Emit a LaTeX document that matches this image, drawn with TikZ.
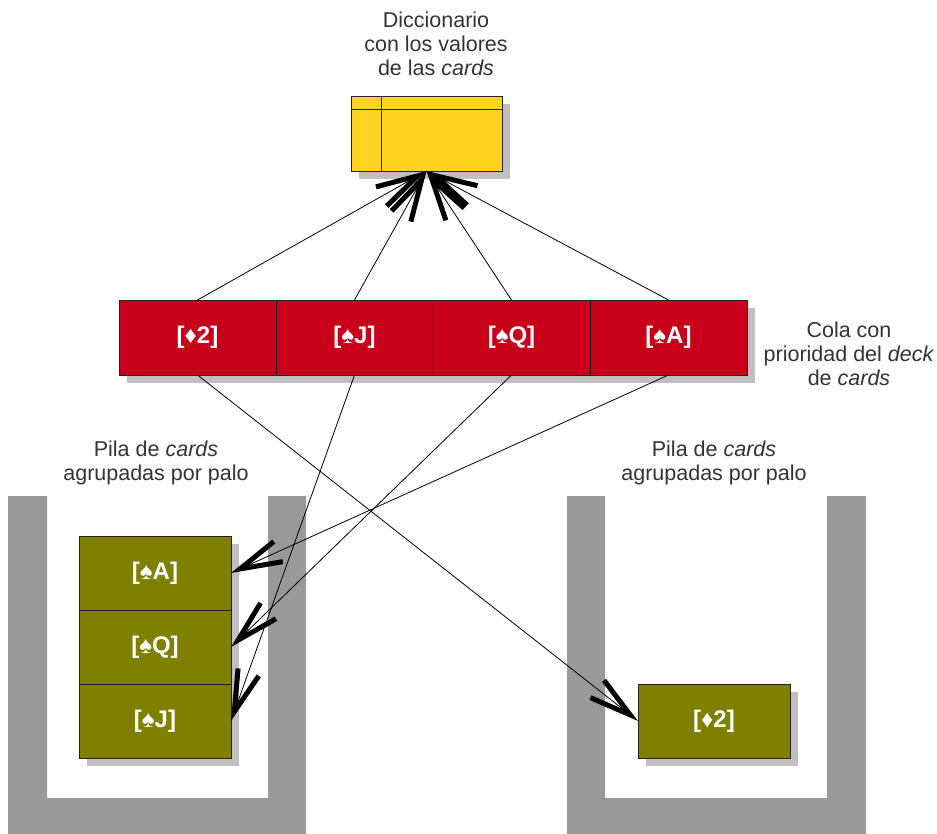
\documentclass[tikz,border=0pt]{standalone}
\usepackage{fontspec}
\setmainfont{Liberation Sans}
\usetikzlibrary{arrows.meta}
\definecolor{cardred}{HTML}{C9001A}
\definecolor{dictyellow}{HTML}{FFD320}
\definecolor{cardolive}{HTML}{808000}
\definecolor{containergray}{HTML}{999999}
\definecolor{shadowgray}{HTML}{C0C0C0}
\definecolor{textgray}{HTML}{333333}
\definecolor{edgegray}{HTML}{222222}
\begin{document}
\begin{tikzpicture}[x=1pt,y=-1pt,
  card/.style={draw=edgegray, line width=0.8pt, minimum width=157pt, minimum height=75pt, inner sep=0pt, outer sep=0pt, text=white, font=\fontsize{24}{28}\selectfont\bfseries},
  redcard/.style={card, fill=cardred},
  olivecard/.style={card, fill=cardolive, minimum width=152pt, minimum height=74pt},
  lbl/.style={align=center, text=textgray, font=\fontsize{21.5}{24}\selectfont},
  link/.style={line width=0.8pt, -{Straight Barb[length=42pt,width=22pt,line width=5pt]}}]

\useasboundingbox (0,0) rectangle (937,834);

% containers
\fill[containergray] (8,496) -- (47,496) -- (47,798) -- (268,798) -- (268,496) -- (306,496) -- (306,834) -- (8,834) -- cycle;
\fill[containergray] (567,496) -- (605,496) -- (605,798) -- (827,798) -- (827,496) -- (866,496) -- (866,834) -- (567,834) -- cycle;

% shadows
\fill[shadowgray] (359,104) rectangle (510,179);
\fill[shadowgray] (127,308) rectangle (755,383);
\fill[shadowgray] (87,544) rectangle (239,766);
\fill[shadowgray] (646,692) rectangle (798,766);

% dictionary
\node[draw=edgegray, line width=0.8pt, fill=dictyellow, minimum width=151pt, minimum height=75pt, inner sep=0pt, outer sep=0pt] (dict) at (426.5,133.5) {};
\draw[edgegray, line width=0.8pt] ([yshift=-13pt]dict.north west) -- ([yshift=-13pt]dict.north east);
\draw[edgegray, line width=0.8pt] ([xshift=30pt]dict.north west) -- ([xshift=30pt]dict.south west);
\node[lbl] (dictlbl) at (436,44) {Diccionario\\con los valores\\de las \textit{cards}};

% priority queue
\node[redcard] (c1) at (197.5,337.5) {[♦2]};
\node[redcard] (c2) at (354.5,337.5) {[♠J]};
\node[redcard] (c3) at (511.5,337.5) {[♠Q]};
\node[redcard] (c4) at (668.5,337.5) {[♠A]};
\node[lbl] (qlbl) at (849,354) {Cola con\\prioridad del \textit{deck}\\de \textit{cards}};

% stacks
\node[lbl] (s1lbl) at (156,463) {Pila de \textit{cards}\\agrupadas por palo};
\node[lbl] (s2lbl) at (714,463) {Pila de \textit{cards}\\agrupadas por palo};
\node[olivecard] (l1) at (155,573) {[♠A]};
\node[olivecard] (l2) at (155,647) {[♠Q]};
\node[olivecard] (l3) at (155,721) {[♠J]};
\node[olivecard] (r1) at (714,721) {[♦2]};

% connectors
\draw[link] (c1.north) -- (dict.south);
\draw[link] (c2.north) -- (dict.south);
\draw[link] (c3.north) -- (dict.south);
\draw[link] (c4.north) -- (dict.south);
\draw[link] (c1.south) -- (r1.west);
\draw[link] (c2.south) -- (l3.east);
\draw[link] (c3.south) -- (l2.east);
\draw[link] (c4.south) -- (l1.east);
\end{tikzpicture}
\end{document}
